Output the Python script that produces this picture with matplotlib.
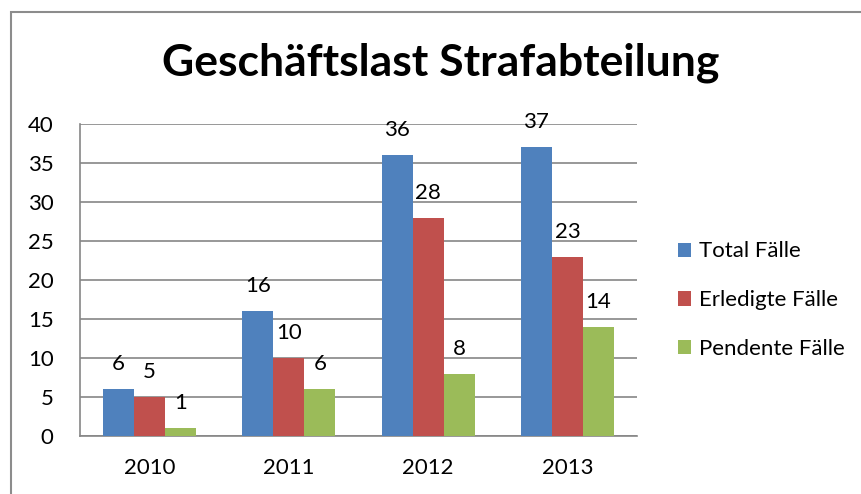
import matplotlib
matplotlib.use("Agg")
import matplotlib.pyplot as plt
from matplotlib.patches import Rectangle
import numpy as np

plt.rcParams["font.family"] = ["Lato", "DejaVu Sans"]

years = ["2010", "2011", "2012", "2013"]
series_names = ["Total Fälle", "Erledigte Fälle", "Pendente Fälle"]
total = [6, 16, 36, 37]
erledigt = [5, 10, 28, 23]
pendent = [1, 6, 8, 14]
colors = ["#4F81BD", "#C0504D", "#9BBB59"]

fig = plt.figure(figsize=(8.62, 4.94), dpi=100)
fig.patch.set_facecolor("white")

# outer chart border (cut off at right/bottom like the screenshot)
fig.add_artist(Rectangle((11 / 862, -0.1), 1.2, 1 - 12 / 494 + 0.1,
                         transform=fig.transFigure, fill=False,
                         edgecolor="#8c8c8c", lw=1.5))

ax = fig.add_axes([80 / 862, 58 / 494, 557 / 862, 312 / 494])
x = np.arange(len(years))
w = 0.2222
for i, (vals, name) in enumerate(zip([total, erledigt, pendent], series_names)):
    pos = x + (i - 1) * w
    ax.bar(pos, vals, width=w, color=colors[i], label=name, zorder=3)
    for px, v in zip(pos, vals):
        ax.annotate(str(v), (px, v), xytext=(0, 18), textcoords="offset points",
                    ha="center", va="center", fontsize=16, color="black")

ax.set_xlim(-0.5, 3.5)
ax.set_ylim(0, 40)
ax.set_yticks(range(0, 41, 5))
ax.set_xticks(x)
ax.set_xticklabels(years)
ax.tick_params(axis="both", length=0, labelsize=16)
ax.tick_params(axis="y", pad=19)
ax.tick_params(axis="x", pad=16)
ax.yaxis.grid(True, color="#868686", lw=1.2, zorder=0)
for s in ("top", "right"):
    ax.spines[s].set_visible(False)
for s in ("left", "bottom"):
    ax.spines[s].set_color("#868686")
    ax.spines[s].set_linewidth(1.2)

fig.text(441 / 862, 1 - 63 / 494, "Geschäftslast Strafabteilung", ha="center",
         va="center", fontsize=32, fontweight="bold")

ax.legend(loc="center left", bbox_to_anchor=(1.038, 0.435), frameon=False,
          fontsize=16, handlelength=0.6, handleheight=0.6, handletextpad=0.35,
          labelspacing=1.3)

fig.savefig("out.png", dpi=100, facecolor="white")
